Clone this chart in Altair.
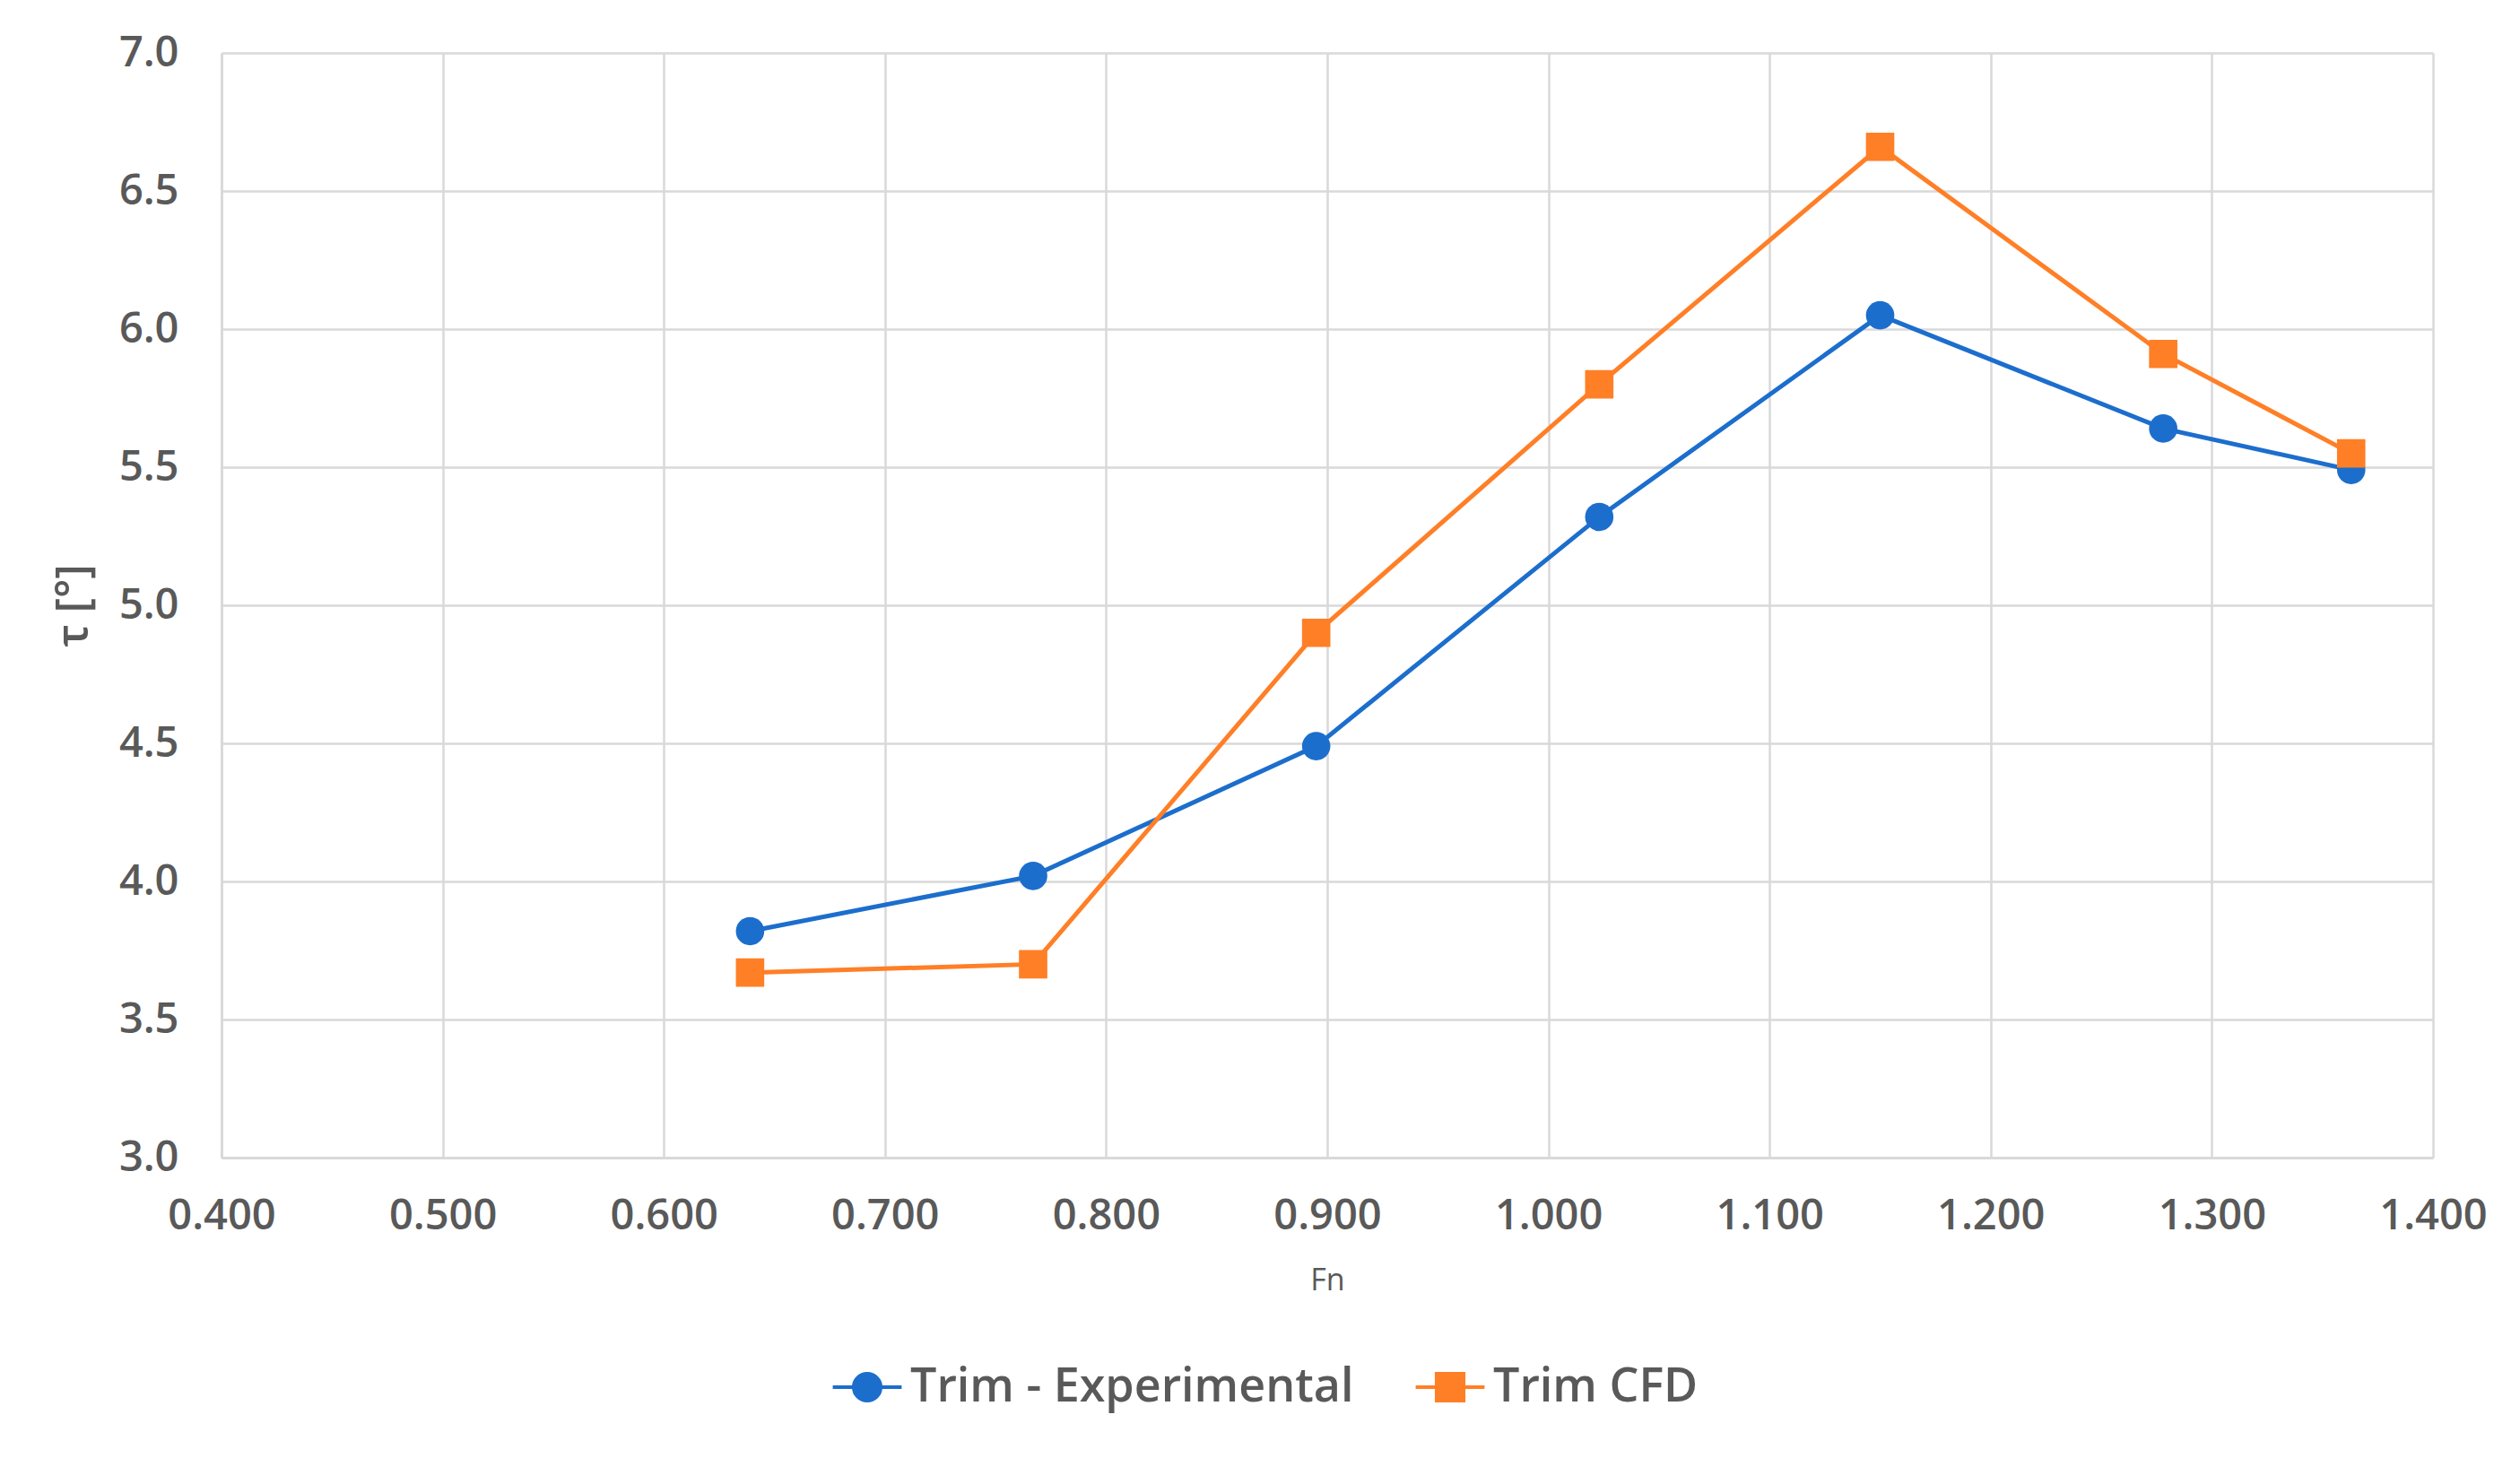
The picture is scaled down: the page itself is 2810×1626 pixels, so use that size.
import altair as alt
import pandas as pd

fn = [0.639, 0.767, 0.895, 1.023, 1.150, 1.278, 1.363]
trim_exp = [3.82, 4.02, 4.49, 5.32, 6.05, 5.64, 5.49]
trim_cfd = [3.67, 3.70, 4.90, 5.80, 6.66, 5.91, 5.55]
series_names = ["Trim - Experimental", "Trim CFD"]
colors = ["#1C6ECD", "#FF7F27"]
x_ticks = [0.4, 0.5, 0.6, 0.7, 0.8, 0.9, 1.0, 1.1, 1.2, 1.3, 1.4]
y_ticks = [3.0, 3.5, 4.0, 4.5, 5.0, 5.5, 6.0, 6.5, 7.0]

rows = []
for i, f in enumerate(fn):
    rows.append({"Fn": f, "tau": trim_exp[i], "series": series_names[0]})
    rows.append({"Fn": f, "tau": trim_cfd[i], "series": series_names[1]})
df = pd.DataFrame(rows)

FONT = "Open Sans"
TXT = "#595959"
GRID = "#D9D9D9"


def rings(rs):
    parts = ["M-2.4 0L2.4 0"]
    for r in rs:
        parts.append("M%g 0A%g %g 0 1 1 %g 0A%g %g 0 1 1 %g 0" % (r, r, r, -r, r, r, r))
    return "".join(parts)


def squares(rs):
    parts = ["M-2.4 0L2.4 0"]
    for r in rs:
        parts.append("M%g %gL%g %gL%g %gL%g %gZ" % (-r, -r, r, -r, r, r, -r, r))
    return "".join(parts)


radii = [0.94, 0.72, 0.5, 0.28, 0.06]
circ_path = rings(radii)
sq_path = squares(radii)

x_enc = alt.X("Fn:Q", scale=alt.Scale(domain=[0.4, 1.4], nice=False),
              axis=alt.Axis(values=x_ticks, format=".3f", title="Fn",
                            labelFont=FONT, labelFontSize=47, labelFontWeight=600,
                            labelColor=TXT, labelPadding=42, ticks=False, labelFlush=False,
                            titleFont=FONT, titleFontSize=34, titleFontWeight="normal",
                            titleColor=TXT, titlePadding=32,
                            domainColor=GRID, domainWidth=3,
                            gridColor=GRID, gridWidth=2.5))
y_enc = alt.Y("tau:Q", scale=alt.Scale(domain=[3.0, 7.0], nice=False),
              axis=alt.Axis(values=y_ticks, format=".1f", title="τ [°]",
                            labelFont=FONT, labelFontSize=47, labelFontWeight=600,
                            labelColor=TXT, labelPadding=48, ticks=False,
                            titleFont=FONT, titleFontSize=50, titleFontWeight=600,
                            titleColor=TXT, titlePadding=25,
                            domainColor=GRID, domainWidth=3,
                            gridColor=GRID, gridWidth=2.5))

color_scale = alt.Scale(domain=series_names, range=colors)

legend = alt.Legend(
    orient="none", legendX=694, legendY=1462, direction="horizontal", title=None,
    labelFont=FONT, labelFontSize=52, labelFontWeight=600, labelColor=TXT, labelLimit=1000,
    symbolSize=1024, symbolStrokeWidth=4,
    labelOffset=22, columnPadding=60)

layers = []
for name, col in zip(series_names, colors):
    base = alt.Chart(df).transform_filter(alt.datum.series == name)
    layers.append(base.mark_line(strokeWidth=5, color=col).encode(x=x_enc, y=y_enc, order="Fn:Q"))
for name, col, shp in zip(series_names, colors, ["circle", "square"]):
    base = alt.Chart(df).transform_filter(alt.datum.series == name)
    layers.append(base.mark_point(filled=True, opacity=1, size=1000, shape=shp, color=col).encode(x=x_enc, y=y_enc))

legend_layer = alt.Chart(df).transform_filter("false").mark_point(filled=False, opacity=1).encode(
    x=x_enc, y=y_enc,
    color=alt.Color("series:N", scale=color_scale, legend=legend),
    shape=alt.Shape("series:N", scale=alt.Scale(domain=series_names, range=[circ_path, sq_path]), legend=legend),
)
layers.append(legend_layer)

chart = alt.layer(*layers).properties(
    width=2466, height=1232,
    padding={"left": 239, "top": 51, "right": 60, "bottom": 300},
    autosize=alt.AutoSizeParams(type="none"),
    background="white",
).configure_view(stroke=None)

chart.save("out.html", embed_options={"renderer": "svg", "actions": False})
